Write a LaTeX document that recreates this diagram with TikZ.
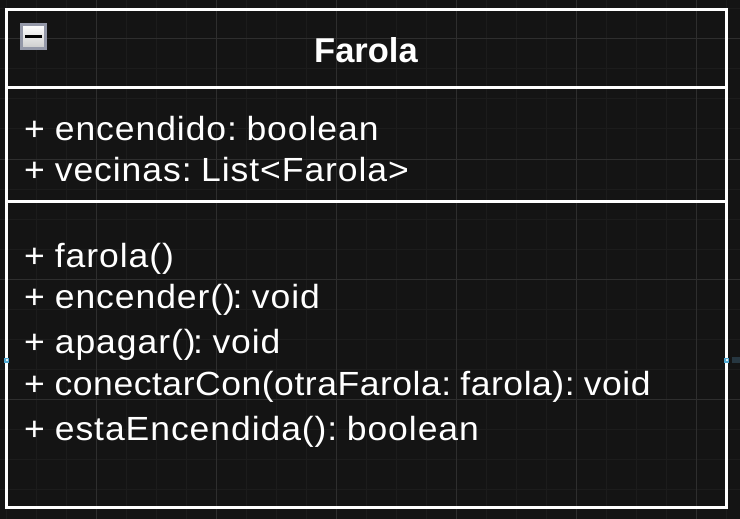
\documentclass[tikz,border=0pt]{standalone}
\usepackage{fontspec}
\setmainfont{Liberation Sans}
\newfontfamily\bodyfont[FakeStretch=1.06,LetterSpace=2.8,WordSpace=0.55]{Liberation Sans}
\newfontfamily\tightfont[FakeStretch=1.06,LetterSpace=1.6,WordSpace=0.55]{Liberation Sans}
\newcommand{\plusmark}{+\kern4pt\ }
\definecolor{bg}{HTML}{141414}
\definecolor{gridminor}{HTML}{1C1C1C}
\definecolor{gridmajor}{HTML}{2E2E2E}
\definecolor{btnedge}{HTML}{9498A8}
\definecolor{portblue}{HTML}{4FA8D0}
\definecolor{slate}{HTML}{263640}
\begin{document}
\begin{tikzpicture}[x=1pt,y=-1pt,
  txt/.style={anchor=base west,inner sep=0pt,text=white,font=\bodyfont\fontsize{33.5}{33.5}\selectfont},
  tighttxt/.style={txt,font=\tightfont\fontsize{33.5}{33.5}\selectfont},
  title/.style={anchor=base,inner sep=0pt,text=white,font=\fontsize{34.5}{34.5}\selectfont\bfseries},
  frame/.style={draw=white,line width=3pt,outer sep=0pt},
  port/.style={fill=portblue,draw=none,minimum size=5pt,inner sep=0pt}]
\useasboundingbox (0,0) rectangle (740,519);
\fill[bg] (0,0) rectangle (740,519);
\foreach \x in {6,36,...,726}
  \draw[gridminor,line width=1pt] (\x,0) -- (\x,519);
\foreach \y in {9,39,...,519}
  \draw[gridminor,line width=1pt] (0,\y) -- (740,\y);
\foreach \x in {96,216,...,696}
  \draw[gridmajor,line width=1pt] (\x,0) -- (\x,519);
\foreach \y in {39,159,...,519}
  \draw[gridmajor,line width=1pt] (0,\y) -- (740,\y);
\node[frame,minimum width=720pt,minimum height=498pt,inner sep=0pt,anchor=north west] (box) at (6.5,9.5) {};
\draw[frame] (box.west |- 0,87.5) -- (box.east |- 0,87.5);
\draw[frame] (box.west |- 0,201.5) -- (box.east |- 0,201.5);
\fill[slate] (732,357) rectangle (740,363);
\node[port] (pl) at (6.5,360) {};
\node[port] (pr) at (726.5,360) {};
\fill[white!80!portblue] (5.5,359) rectangle (7.5,361);
\fill[white!80!portblue] (725.5,359) rectangle (727.5,361);
\shade[top color=white,bottom color=black!20] (21.5,24.5) rectangle (45.5,48.5);
\draw[btnedge,line width=3pt] (21.5,24.5) rectangle (45.5,48.5);
\fill[black] (25,34.7) rectangle (42,38);
\node[title] (t) at (366,62.5) {Farola};
\node[txt] (a1) at (24,140) {\plusmark encendido: boolean};
\node[txt] (a2) at (24,182) {\plusmark vecinas: List<Farola>};
\node[txt] (m1) at (24,267) {\plusmark farola()};
\node[txt] (m2) at (24,308) {\plusmark encender()\kern-2.5pt: void};
\node[txt] (m3) at (24,353) {\plusmark apagar()\kern-2.5pt: void};
\node[tighttxt] (m4) at (24,395) {\plusmark conectarCon(otraFarola: farola): void};
\node[txt] (m5) at (24,440) {\plusmark estaEncendida(): boolean};
\end{tikzpicture}
\end{document}
